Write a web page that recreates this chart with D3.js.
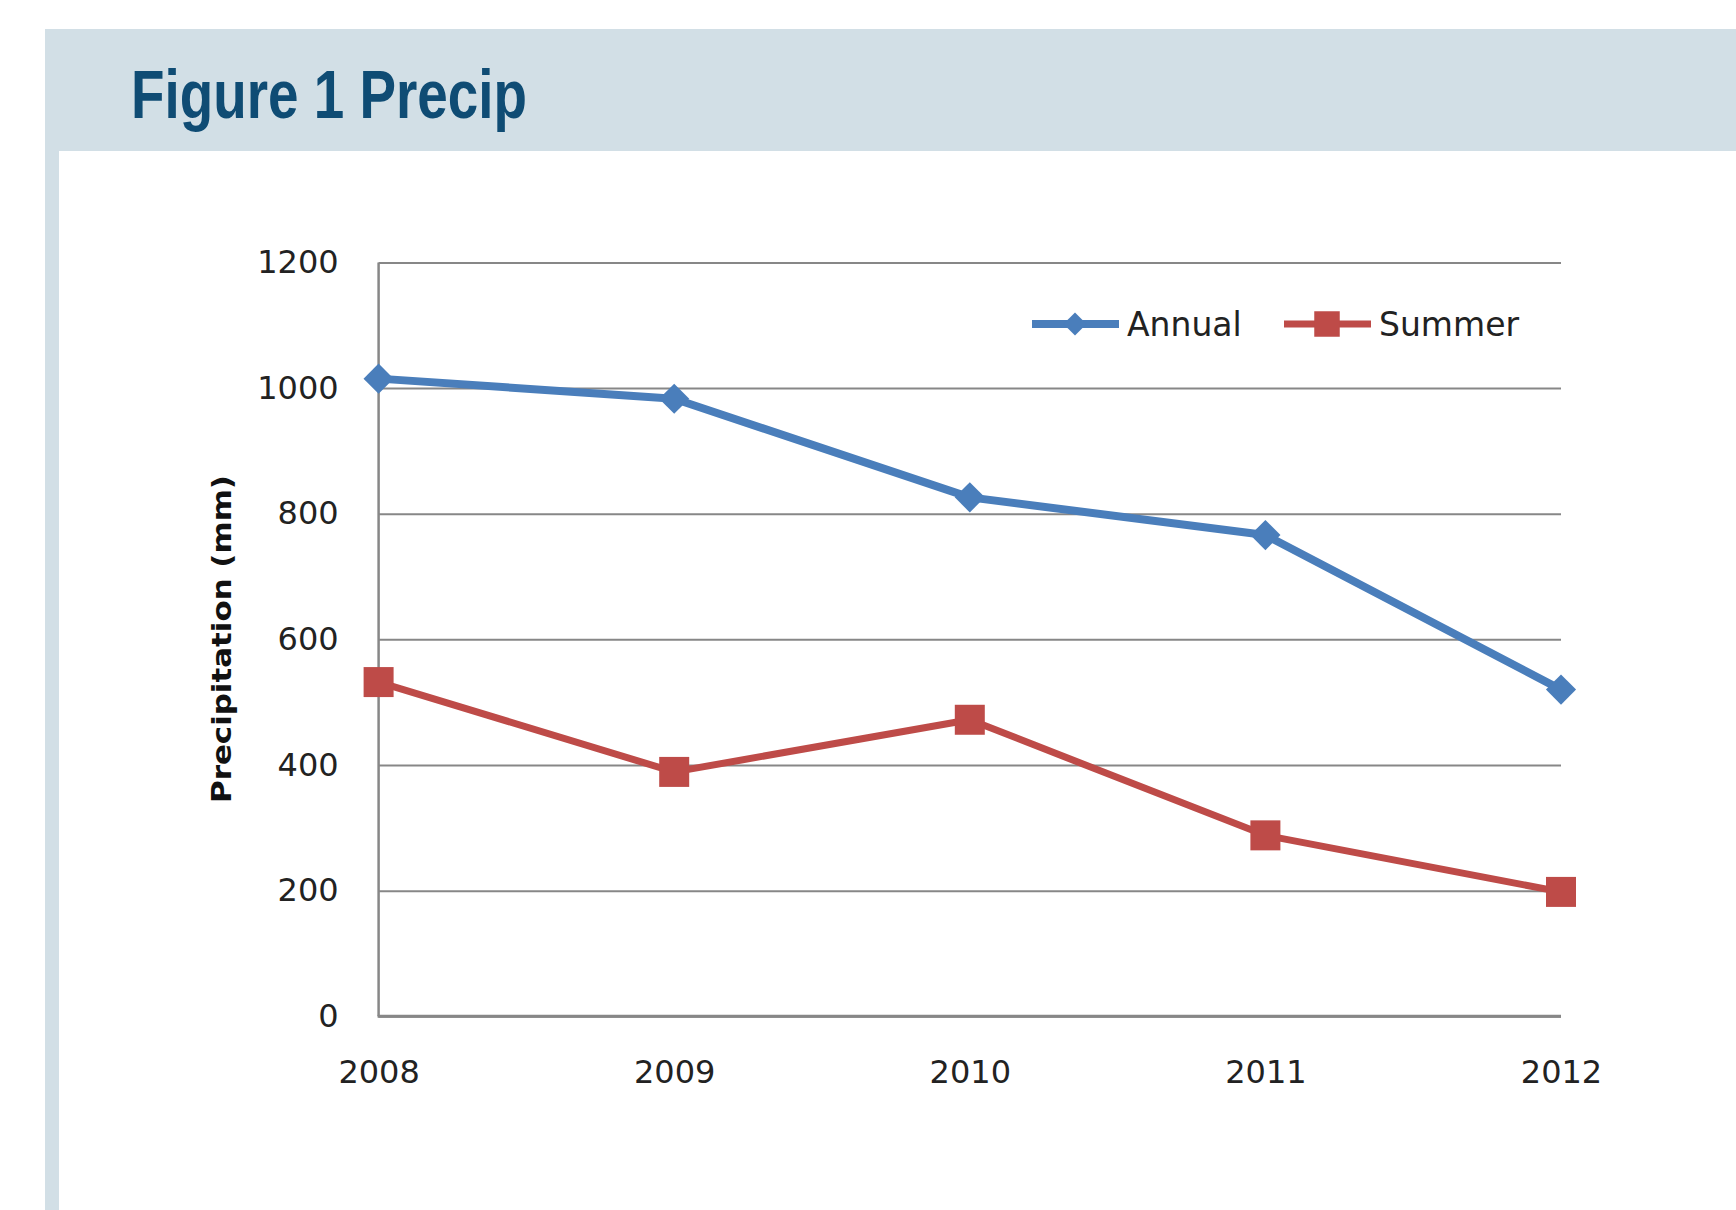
<!DOCTYPE html>
<html>
<head>
<meta charset="utf-8">
<script src="https://cdn.jsdelivr.net/npm/d3@7"></script>
<style>
  body{ margin:0; background:#ffffff; }
  svg{ display:block; }
</style>
</head>
<body>
<svg id="graph" width="1736" height="1210"></svg>
<script>
var years = ["2008","2009","2010","2011","2012"];
var annual = [1015, 983, 826, 766, 520];
var summer = [532, 389, 472, 288, 198];
var yticks = [0, 200, 400, 600, 800, 1000, 1200];
var seriesNames = ["Annual", "Summer"];

var blue = "#4a7ebb";
var red = "#be4b48";
var gridcolor = "#878787";

var canvas = d3.select("svg#graph");

// header band + left strip
canvas.append("rect")
      .attr("x", 45).attr("y", 29)
      .attr("width", 1736-45).attr("height", 122)
      .attr("fill", "#d2dfe6");
canvas.append("rect")
      .attr("x", 45).attr("y", 151)
      .attr("width", 14).attr("height", 1210-151)
      .attr("fill", "#d2dfe6");
canvas.append("text")
      .text("Figure 1 Precip")
      .attr("x", 131)
      .attr("y", 118)
      .attr("textLength", 396)
      .attr("lengthAdjust", "spacingAndGlyphs")
      .attr("fill", "#0f4c74")
      .attr("style", "font-family:'Liberation Sans',Arial,sans-serif; font-weight:bold; font-size:69px;");

var xScale = d3.scalePoint().domain(years).range([378.6, 1561]);
var yScale = d3.scaleLinear().domain([0, 1200]).range([1016.3, 262.4]);
var plotW = xScale.range()[1] - xScale.range()[0];

// y axis: labels + gridlines
var yaxis = canvas.append("g")
      .attr("transform", "translate(" + xScale.range()[0] + ",0)")
      .call(d3.axisLeft(yScale).tickValues(yticks).tickFormat(d3.format("d")).tickSize(-plotW).tickPadding(40));
yaxis.select(".domain").remove();
yaxis.selectAll(".tick line")
     .attr("stroke", gridcolor)
     .attr("stroke-width", 2);
yaxis.selectAll(".tick text")
     .attr("fill", "#222")
     .attr("style", "font-family:'DejaVu Sans',Verdana,sans-serif; font-size:32px;");

// axis lines
canvas.append("line")
      .attr("x1", xScale.range()[0]).attr("x2", xScale.range()[0])
      .attr("y1", yScale(1200)).attr("y2", yScale(0))
      .attr("stroke", gridcolor).attr("stroke-width", 2.5);
canvas.append("line")
      .attr("x1", xScale.range()[0]-1).attr("x2", xScale.range()[1])
      .attr("y1", yScale(0)).attr("y2", yScale(0))
      .attr("stroke", gridcolor).attr("stroke-width", 3);

// x axis labels
var xaxis = canvas.append("g")
      .attr("transform", "translate(0," + yScale(0) + ")")
      .call(d3.axisBottom(xScale).tickSize(0).tickPadding(44));
xaxis.select(".domain").remove();
xaxis.selectAll(".tick text")
     .attr("fill", "#222")
     .attr("style", "font-family:'DejaVu Sans',Verdana,sans-serif; font-size:32px;");

// y title
canvas.append("text")
      .text("Precipitation (mm)")
      .attr("transform", "translate(221,639) rotate(-90)")
      .attr("text-anchor", "middle")
      .attr("dominant-baseline", "central")
      .attr("textLength", 328)
      .attr("lengthAdjust", "spacingAndGlyphs")
      .attr("fill", "#111")
      .attr("style", "font-family:'DejaVu Sans',Verdana,sans-serif; font-weight:bold; font-size:27px;");

var line = d3.line()
      .x(function(d, i){ return xScale(years[i]); })
      .y(function(d){ return yScale(d); });

var diamond = d3.symbol().type(d3.symbolDiamond2).size(580);
var square = d3.symbol().type(d3.symbolSquare).size(900);

// annual
canvas.append("path")
      .attr("d", line(annual))
      .attr("fill", "none")
      .attr("stroke", blue)
      .attr("stroke-width", 8)
      .attr("stroke-linejoin", "round");
// summer
canvas.append("path")
      .attr("d", line(summer))
      .attr("fill", "none")
      .attr("stroke", red)
      .attr("stroke-width", 7)
      .attr("stroke-linejoin", "round");

for(var i=0; i<years.length; i++){
  canvas.append("path")
        .attr("class", "graphpoint")
        .attr("d", diamond())
        .attr("transform", "translate(" + xScale(years[i]) + "," + yScale(annual[i]) + ")")
        .attr("fill", blue);
  canvas.append("path")
        .attr("class", "graphpoint")
        .attr("d", square())
        .attr("transform", "translate(" + xScale(years[i]) + "," + yScale(summer[i]) + ")")
        .attr("fill", red);
}

// legend
var legend = [
  {name: seriesNames[0], color: blue, x: 1032, sym: d3.symbol().type(d3.symbolDiamond2).size(340), w: 8},
  {name: seriesNames[1], color: red, x: 1284, sym: d3.symbol().type(d3.symbolSquare).size(650), w: 7}
];
legend.forEach(function(l){
  canvas.append("line")
        .attr("x1", l.x).attr("x2", l.x+87)
        .attr("y1", 324).attr("y2", 324)
        .attr("stroke", l.color).attr("stroke-width", l.w);
  canvas.append("path")
        .attr("d", l.sym())
        .attr("transform", "translate(" + (l.x+43) + ",324)")
        .attr("fill", l.color);
  canvas.append("text")
        .text(l.name)
        .attr("x", l.x+95)
        .attr("y", 324)
        .attr("dy", "0.36em")
        .attr("fill", "#222")
        .attr("style", "font-family:'DejaVu Sans',Verdana,sans-serif; font-size:33px;");
});
</script>
</body>
</html>
